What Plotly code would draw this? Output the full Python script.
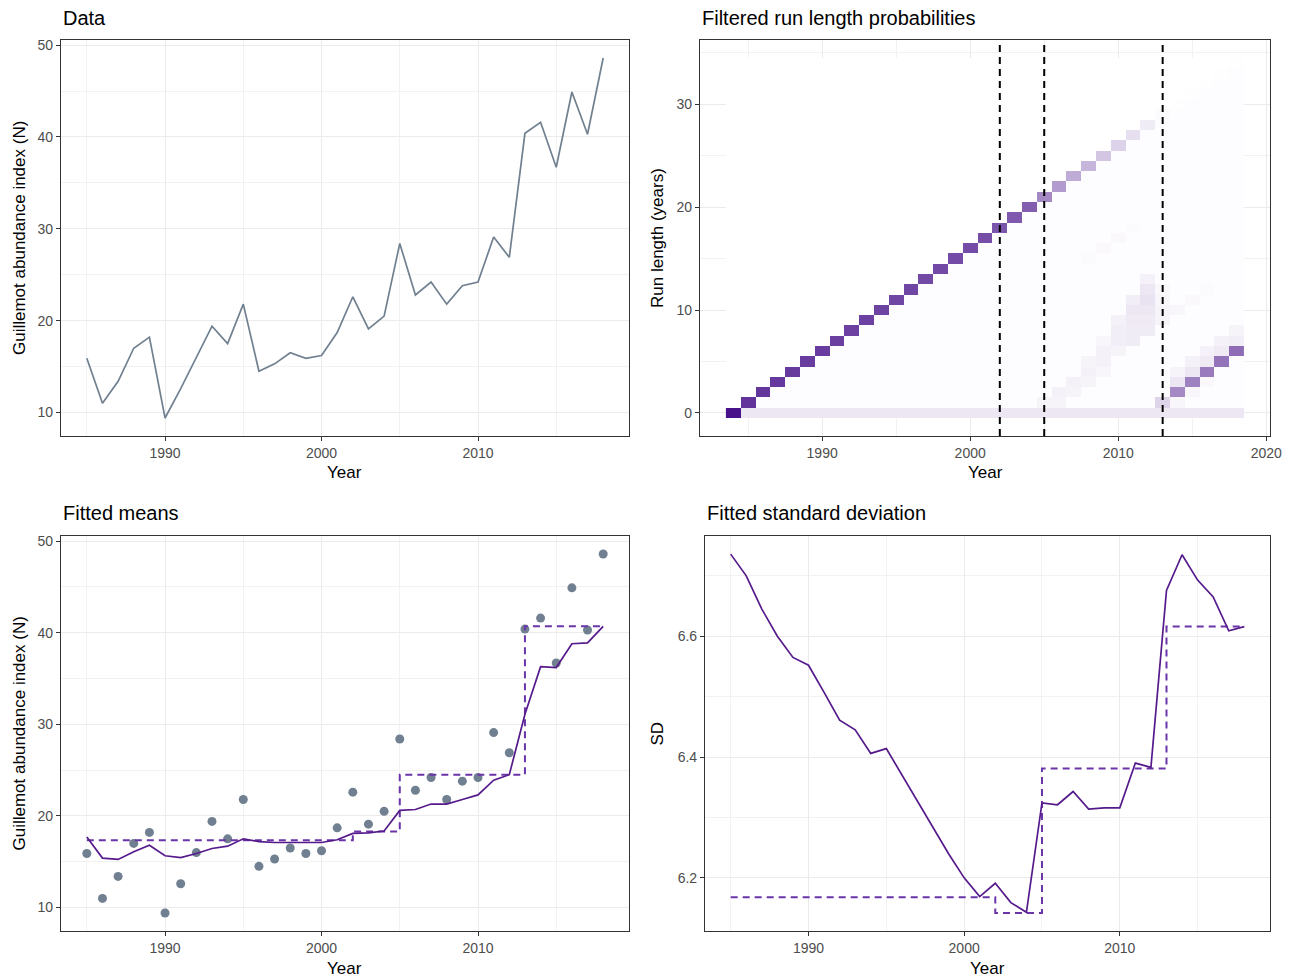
import plotly.graph_objects as go
import numpy as np

# ---------------- data ----------------
years = list(range(1985, 2019))
abundance = [15.9, 11.0, 13.4, 17.0, 18.2, 9.4, 12.6, 16.0, 19.4, 17.5,
             21.8, 14.5, 15.3, 16.5, 15.9, 16.2, 18.7, 22.6, 19.1, 20.5,
             28.4, 22.8, 24.2, 21.8, 23.8, 24.2, 29.1, 26.9, 40.4, 41.6,
             36.7, 44.9, 40.3, 48.6]
mean_fit = [17.7, 15.4, 15.25, 16.1, 16.8, 15.65, 15.45, 15.9, 16.45, 16.7,
            17.5, 17.2, 17.1, 17.1, 17.1, 17.1, 17.4, 18.1, 18.15, 18.35,
            20.6, 20.7, 21.3, 21.3, 21.8, 22.3, 23.9, 24.5, 31.1, 36.3,
            36.2, 38.8, 38.9, 40.7]
sd_fit = [6.736, 6.700, 6.645, 6.600, 6.565, 6.552, 6.507, 6.461, 6.445, 6.406,
          6.414, 6.370, 6.326, 6.282, 6.240, 6.200, 6.169, 6.191, 6.159, 6.143,
          6.324, 6.321, 6.343, 6.314, 6.316, 6.316, 6.390, 6.383, 6.676, 6.735,
          6.693, 6.665, 6.609, 6.616]
seg_years = [1985, 2002, 2005, 2013, 2018]
seg_means = [17.35, 18.3, 24.5, 40.7, 40.7]
seg_sds = [6.168, 6.142, 6.381, 6.616, 6.616]
changepoints = [2002, 2005, 2013]

# run length heatmap
hm_years = list(range(1984, 2019))
run_lengths = list(range(0, 35))
main_run_prob = [1.0, 0.86, 0.85, 0.84, 0.83, 0.82, 0.82, 0.81, 0.80, 0.80,
                 0.79, 0.78, 0.78, 0.77, 0.77, 0.76, 0.76, 0.75, 0.72, 0.70,
                 0.68, 0.50, 0.42, 0.35, 0.31, 0.24, 0.19, 0.135, 0.08, 0.02,
                 0.006, 0.005, 0.004, 0.004, 0.003]   # rl = year - 1984
new_run_years = [2013, 2014, 2015, 2016, 2017, 2018]
new_run_prob = [0.18, 0.50, 0.53, 0.56, 0.59, 0.62]   # rl = year - 2012
rl0_prob = 0.10
background_prob = 0.012
faint_cells = [  # (year, run length, probability)
    (2005, 1, 0.05), (2006, 1, 0.05), (2006, 2, 0.06), (2007, 2, 0.05), (2007, 3, 0.06),
    (2008, 3, 0.05), (2008, 4, 0.06), (2008, 5, 0.05), (2009, 4, 0.04), (2009, 5, 0.06),
    (2009, 6, 0.06), (2009, 7, 0.04), (2010, 6, 0.05), (2010, 7, 0.07), (2010, 8, 0.07),
    (2010, 9, 0.06), (2011, 7, 0.08), (2011, 8, 0.08), (2011, 9, 0.09), (2011, 10, 0.10),
    (2011, 11, 0.07), (2012, 8, 0.08), (2012, 9, 0.09), (2012, 10, 0.10), (2012, 11, 0.12),
    (2012, 12, 0.10), (2012, 13, 0.06), (2013, 9, 0.05), (2013, 10, 0.05), (2013, 11, 0.04),
    (2013, 12, 0.03), (2008, 15, 0.02), (2009, 16, 0.03), (2010, 17, 0.03), (2011, 18, 0.02),
    (2014, 1, 0.04), (2014, 3, 0.10), (2014, 4, 0.05), (2015, 2, 0.04), (2015, 4, 0.10),
    (2015, 5, 0.06), (2016, 3, 0.03), (2016, 5, 0.09), (2016, 6, 0.06), (2017, 6, 0.09),
    (2017, 7, 0.06), (2018, 7, 0.07), (2018, 8, 0.05), (2014, 10, 0.04), (2015, 11, 0.03),
    (2016, 12, 0.02),
]

# build heatmap matrix from the values above
z = np.zeros((len(run_lengths), len(hm_years)))
for j, yr in enumerate(hm_years):
    t = yr - 1984
    for r in range(0, t + 1):
        z[r, j] = background_prob
    if t > 0:
        z[0, j] = rl0_prob
    z[t, j] = main_run_prob[j]
for yr, p in zip(new_run_years, new_run_prob):
    z[yr - 2012, hm_years.index(yr)] = p
for yr, r, p in faint_cells:
    z[r, hm_years.index(yr)] = max(z[r, hm_years.index(yr)], p)

# ---------------- styling ----------------
W, H = 1290, 980
FONT = "Liberation Sans, Arial, Helvetica, sans-serif"
SLATE = "#708090"
PURPLE = "#551a8b"
PURPLE_D = "#6a35a8"


def px_x(p):
    return p / W


def px_y(p):
    return 1 - p / H


def axis_style(**kw):
    d = dict(
        showgrid=True, gridcolor="#ebebeb", gridwidth=1.1,
        showline=True, linecolor="#333333", linewidth=1.2, mirror=True,
        ticks="outside", ticklen=4, tickcolor="#333333", tickwidth=1.1,
        tickfont=dict(size=14, color="#4d4d4d", family=FONT),
        zeroline=False, automargin=False,
    )
    d.update(kw)
    return d


fig = go.Figure()

# Panel 1: Data
fig.add_trace(go.Scatter(x=years, y=abundance, mode="lines",
                         line=dict(color=SLATE, width=1.7),
                         xaxis="x", yaxis="y", showlegend=False))

# Panel 2: run length heatmap
fig.add_trace(go.Heatmap(x=hm_years, y=run_lengths, z=z, zmin=0, zmax=1,
                         colorscale=[[0, "#ffffff"], [1, "#48128a"]],
                         showscale=False, xaxis="x2", yaxis="y2"))

# Panel 3: Fitted means
fig.add_trace(go.Scatter(x=years, y=abundance, mode="markers",
                         marker=dict(color=SLATE, size=9),
                         xaxis="x3", yaxis="y3", showlegend=False))
fig.add_trace(go.Scatter(x=seg_years, y=seg_means, mode="lines", line_shape="hv",
                         line=dict(color=PURPLE_D, width=2, dash="7px,5px"),
                         xaxis="x3", yaxis="y3", showlegend=False))
fig.add_trace(go.Scatter(x=years, y=mean_fit, mode="lines",
                         line=dict(color=PURPLE, width=1.7),
                         xaxis="x3", yaxis="y3", showlegend=False))

# Panel 4: Fitted SD
fig.add_trace(go.Scatter(x=seg_years, y=seg_sds, mode="lines", line_shape="hv",
                         line=dict(color=PURPLE_D, width=2, dash="7px,5px"),
                         xaxis="x4", yaxis="y4", showlegend=False))
fig.add_trace(go.Scatter(x=years, y=sd_fit, mode="lines",
                         line=dict(color=PURPLE, width=1.7),
                         xaxis="x4", yaxis="y4", showlegend=False))

for cp in changepoints:
    fig.add_shape(type="line", xref="x2", yref="y2 domain", x0=cp, x1=cp, y0=0, y1=1,
                  line=dict(color="black", width=2, dash="7px,5px"))

yr_range = [1983.35, 2019.65]
minor_x = dict(dtick=5, tick0=1985, showgrid=True, gridcolor="#f2f2f2", gridwidth=0.8, ticks="")

top_dom = [px_y(436), px_y(40)]
bot_dom = [px_y(931), px_y(536)]

fig.update_layout(
    width=W, height=H,
    margin=dict(l=0, r=0, t=0, b=0),
    paper_bgcolor="white", plot_bgcolor="white",
    font=dict(family=FONT, color="black"),
    xaxis=axis_style(domain=[px_x(61), px_x(629)], anchor="y", range=yr_range,
                     tick0=1990, dtick=10, minor=minor_x),
    yaxis=axis_style(domain=top_dom, anchor="x", range=[7.44, 50.56],
                     tick0=0, dtick=10,
                     minor=dict(dtick=5, showgrid=True, gridcolor="#f2f2f2", gridwidth=0.8, ticks="")),
    xaxis2=axis_style(domain=[px_x(700), px_x(1270)], anchor="y2", range=[1981.75, 2020.25],
                      tick0=1990, dtick=10, minor=minor_x),
    yaxis2=axis_style(domain=top_dom, anchor="x2", range=[-2.25, 36.25],
                      tick0=0, dtick=10,
                      minor=dict(dtick=5, showgrid=True, gridcolor="#f2f2f2", gridwidth=0.8, ticks="")),
    xaxis3=axis_style(domain=[px_x(61), px_x(629)], anchor="y3", range=yr_range,
                      tick0=1990, dtick=10, minor=minor_x),
    yaxis3=axis_style(domain=bot_dom, anchor="x3", range=[7.44, 50.56],
                      tick0=0, dtick=10,
                      minor=dict(dtick=5, showgrid=True, gridcolor="#f2f2f2", gridwidth=0.8, ticks="")),
    xaxis4=axis_style(domain=[px_x(705), px_x(1270)], anchor="y4", range=yr_range,
                      tick0=1990, dtick=10, minor=minor_x),
    yaxis4=axis_style(domain=bot_dom, anchor="x4", range=[6.112, 6.766],
                      tick0=6.2, dtick=0.2, tickformat=".1f",
                      minor=dict(dtick=0.1, tick0=6.1, showgrid=True, gridcolor="#f2f2f2", gridwidth=0.8, ticks="")),
)

annotations = []
titles = [("Data", 61, 18), ("Filtered run length probabilities", 700, 18),
          ("Fitted means", 61, 513), ("Fitted standard deviation", 705, 513)]
for text, x, y in titles:
    annotations.append(dict(text=text, x=px_x(x), y=px_y(y), xref="paper", yref="paper",
                            xanchor="left", yanchor="middle", showarrow=False,
                            font=dict(size=20, color="black", family=FONT)))
xt = [((61 + 629) / 2, 472), ((700 + 1270) / 2, 472), ((61 + 629) / 2, 968), ((705 + 1270) / 2, 968)]
for x, y in xt:
    annotations.append(dict(text="Year", x=px_x(x), y=px_y(y), xref="paper", yref="paper",
                            xanchor="center", yanchor="middle", showarrow=False,
                            font=dict(size=17, color="black", family=FONT)))
yt = [("Guillemot abundance index (N)", 19, (40 + 436) / 2),
      ("Run length (years)", 657, (40 + 436) / 2),
      ("Guillemot abundance index (N)", 19, (536 + 931) / 2),
      ("SD", 657, (536 + 931) / 2)]
for text, x, y in yt:
    annotations.append(dict(text=text, x=px_x(x), y=px_y(y), xref="paper", yref="paper",
                            xanchor="center", yanchor="middle", showarrow=False, textangle=-90,
                            font=dict(size=17, color="black", family=FONT)))
fig.update_layout(annotations=annotations)

fig.write_html("out.html")
